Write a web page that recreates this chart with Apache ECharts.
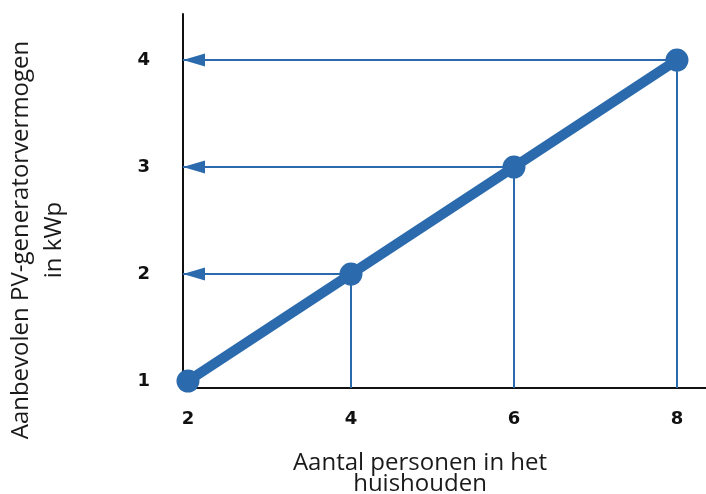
<!DOCTYPE html>
<html>
<head>
<meta charset="utf-8">
<script src="https://cdn.jsdelivr.net/npm/echarts@6/dist/echarts.min.js"></script>
<style>html,body{margin:0;padding:0;background:#fff}#c{width:706px;height:494px}</style>
</head>
<body>
<div id="c"></div>
<script>
// Data
const persons = [2, 4, 6, 8];
const kwp = [1, 2, 3, 4];
const xTicks = [2, 4, 6, 8];
const yTicks = [1, 2, 3, 4];
const xTitle = 'Aantal personen in het\nhuishouden';
const yTitle = 'Aanbevolen PV-generatorvermogen\nin kWp';

const X_MIN = 1.939, X_MAX = 8.356, Y_MIN = 0.935, Y_MAX = 4.43;
const BLUE = '#2a6aad';

const pts = persons.map((p, i) => [p, kwp[i]]);
const markData = [];
pts.forEach((p, i) => {
  if (i === 0) return;
  markData.push([{coord: p, symbol: 'none'}, {coord: [X_MIN, p[1]], symbol: 'triangle', symbolSize: [13, 22], symbolOffset: [0, 11]}]);
  markData.push([{coord: p, symbol: 'none'}, {coord: [p[0], Y_MIN], symbol: 'none'}]);
});

const chart = echarts.init(document.getElementById('c'));
chart.setOption({
  animation: false,
  grid: {left: 183, right: 0, top: 14, bottom: 106},
  xAxis: {
    type: 'value', min: X_MIN, max: X_MAX,
    axisLine: {show: true, lineStyle: {color: '#111', width: 2}},
    axisTick: {show: false},
    splitLine: {show: false},
    axisLabel: {customValues: xTicks, margin: 22, fontFamily: 'DejaVu Sans', fontWeight: 'bold', fontSize: 18, color: '#111'}
  },
  yAxis: {
    type: 'value', min: Y_MIN, max: Y_MAX,
    axisLine: {show: true, lineStyle: {color: '#111', width: 2}},
    axisTick: {show: false},
    splitLine: {show: false},
    axisLabel: {customValues: yTicks, margin: 33, padding: [0, 0, 8, 0], fontFamily: 'DejaVu Sans', fontWeight: 'bold', fontSize: 18, color: '#111'}
  },
  graphic: [
    {type: 'text', x: 420, y: 474, style: {text: xTitle, font: '24px "Open Sans"', fill: '#1a1a1a', textAlign: 'center', textVerticalAlign: 'middle', lineHeight: 21}},
    {type: 'text', x: 38, y: 240, rotation: Math.PI / 2, style: {text: yTitle, font: '24px "Open Sans"', fill: '#1a1a1a', textAlign: 'center', textVerticalAlign: 'middle', lineHeight: 33}}
  ],
  series: [
    {
      type: 'line', data: [], z: 1,
      markLine: {
        silent: true, animation: false,
        lineStyle: {color: BLUE, width: 2, type: 'solid'},
        label: {show: false},
        emphasis: {disabled: true},
        data: markData
      }
    },
    {
      type: 'line', data: pts, z: 2,
      lineStyle: {color: BLUE, width: 10},
      itemStyle: {color: BLUE},
      symbol: 'circle', symbolSize: 23, showSymbol: true
    }
  ]
});
</script>
</body>
</html>
